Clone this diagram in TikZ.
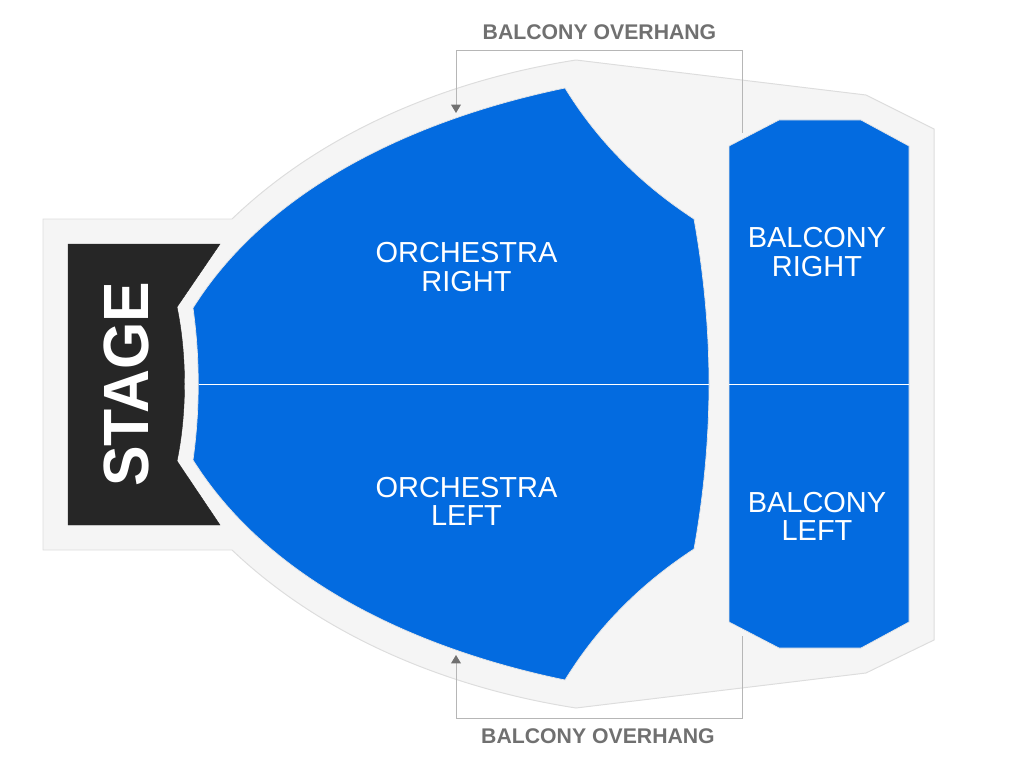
\documentclass[tikz,border=0pt]{standalone}
\definecolor{seatblue}{RGB}{3, 107, 224}
\definecolor{hallgray}{RGB}{245, 245, 245}
\definecolor{hallline}{RGB}{221, 221, 221}
\definecolor{stageblack}{RGB}{38, 38, 38}
\definecolor{notegray}{RGB}{112, 112, 112}
\definecolor{noteline}{RGB}{182, 182, 182}
\usepackage{fontspec}
\setmainfont{Liberation Sans}
\usepackage{tikz}
\usetikzlibrary{arrows.meta}

\begin{document}
\begin{tikzpicture}[
  x=0.025cm, y=-0.025cm,
  hall/.style={draw=hallline, fill=hallgray, line width=0.7pt},
  seats/.style={draw=hallline!70!white, fill=seatblue, line width=0.5pt},
  seatname/.style={text=white, align=center, inner sep=0pt, font=\fontsize{20.6}{20}\selectfont},
  notename/.style={text=notegray, inner sep=0pt, font=\fontsize{15.1}{18}\selectfont\bfseries},
  noteconn/.style={draw=noteline, line width=0.7pt},
  notearrow/.style={noteconn, -{Triangle[color=notegray, width=7pt, length=6pt]}},
  divider/.style={draw=white, line width=0.6pt}
]
  \useasboundingbox (0, 0) rectangle (1024, 768);

  % house outline
  \draw[hall] (43, 219) -- (232, 219) .. controls (330, 125) and (460, 78) .. (576, 60)
    -- (866, 95) -- (934, 129) -- (934, 640) -- (866, 673) -- (576, 708)
    .. controls (460, 690) and (330, 643) .. (232, 550) -- (43, 550) -- cycle;

  % stage
  \draw[fill=stageblack, draw=stageblack, line width=0.3pt] (68, 244) -- (220, 244) -- (177, 307)
    .. controls (187, 355) and (187, 413) .. (177, 461) -- (220, 525) -- (68, 525) -- cycle;
  \node[text=white, inner sep=0pt, rotate=90, font=\fontsize{45.5}{50}\selectfont\bfseries] (stage) at (126.5, 384.5) {\scalebox{0.95}[1]{STAGE}};

  % orchestra
  \draw[seats] (193, 308) .. controls (270, 185) and (420, 118) .. (565, 88)
    .. controls (600, 145) and (645, 187) .. (694, 219)
    .. controls (704, 275) and (709, 330) .. (709, 384)
    .. controls (709, 438) and (704, 493) .. (694, 549)
    .. controls (645, 581) and (600, 623) .. (565, 680)
    .. controls (420, 650) and (270, 583) .. (193, 460)
    .. controls (200, 410) and (200, 358) .. (193, 308) -- cycle;
  \node[seatname] (orchright) at (466.5, 267) {ORCHESTRA\\RIGHT};
  \node[seatname] (orchleft) at (466.5, 501) {ORCHESTRA\\LEFT};

  % balcony
  \draw[seats] (729, 146) -- (779, 120) -- (861, 120) -- (909, 146) -- (909, 622)
    -- (861, 648) -- (779, 648) -- (729, 622) -- cycle;
  \node[seatname] (balcright) at (817, 252) {BALCONY\\RIGHT};
  \node[seatname] (balcleft) at (817, 516) {BALCONY\\LEFT};

  % dividers
  \coordinate (orchwest) at (199, 384);
  \coordinate (orcheast) at (709, 384);
  \coordinate (balcwest) at (729, 384);
  \coordinate (balceast) at (909, 384);
  \draw[divider] (orchwest) -- (orcheast);
  \draw[divider] (balcwest) -- (balceast);

  % overhang notes
  \node[notename] (hangtop) at (599.5, 32) {BALCONY OVERHANG};
  \node[notename] (hangbot) at (598, 736) {BALCONY OVERHANG};
  \coordinate (topstart) at (742, 133);
  \coordinate (topeast) at (742, 50);
  \coordinate (topwest) at (456, 50);
  \coordinate (toptip) at (456, 113);
  \coordinate (botstart) at (742, 636);
  \coordinate (boteast) at (742, 718);
  \coordinate (botwest) at (456, 718);
  \coordinate (bottip) at (456, 655);
  \draw[notearrow] (topstart) -- (topeast) -- (topwest) -- (toptip);
  \draw[notearrow] (botstart) -- (boteast) -- (botwest) -- (bottip);
\end{tikzpicture}
\end{document}
